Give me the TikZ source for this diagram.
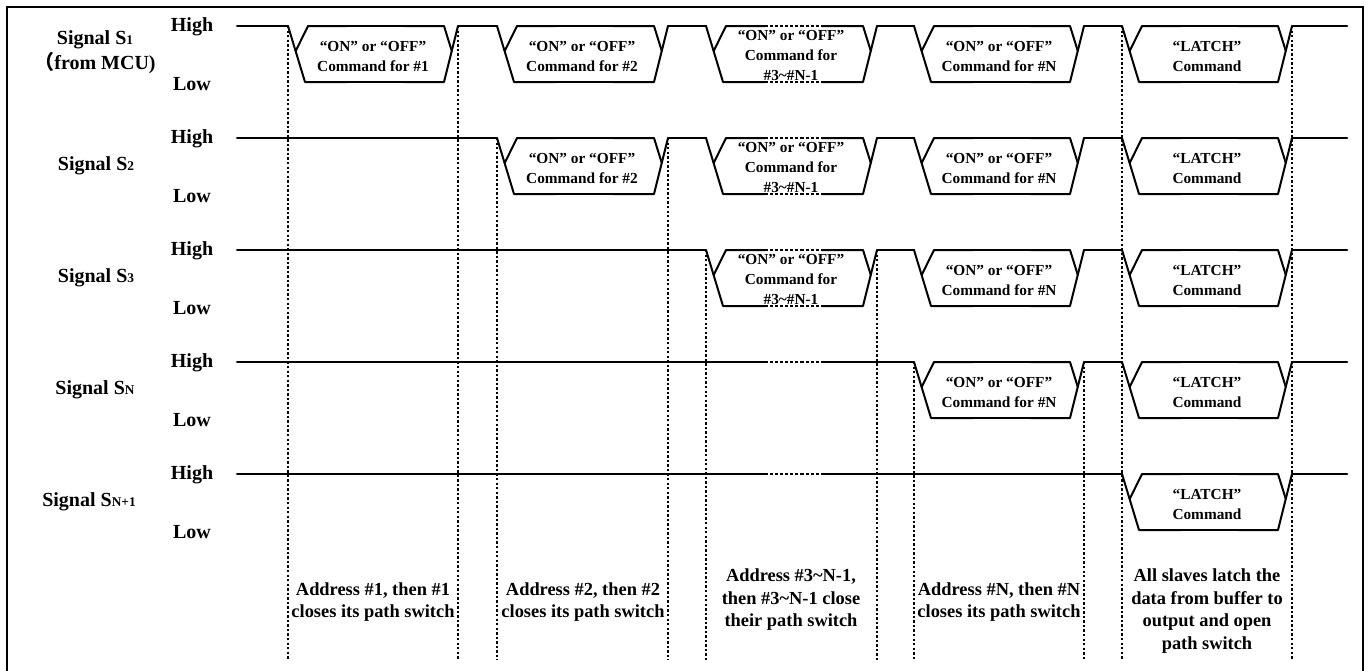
\documentclass[tikz,border=0pt]{standalone}
\usepackage{fontspec}
\setmainfont{Liberation Serif}
\newfontfamily\cjk{Noto Sans CJK SC}
\usetikzlibrary{positioning}

\newcommand{\idx}[1]{{\fontsize{10}{10}\selectfont #1}}
% one command slot on a line: left edge, right edge, high level, style of the middle part
\newcommand{\busslot}[4]{%
  \draw[sig] (#1,#3) -- ++(17,56) -- ++(42,0);
  \draw[sig,#4] (#1+59,#3+56) -- ++(57,0);
  \draw[sig] (#1+116,#3+56) -- (#2-14,#3+56) -- (#2,#3);
  \draw[sig] (#1+7.7,#3+25) -- (#1+20,#3) -- (#1+59,#3);
  \draw[sig,#4] (#1+59,#3) -- ++(57,0);
  \draw[sig] (#1+116,#3) -- (#2-14,#3) -- (#2-6.2,#3+25);
}

\begin{document}
\begin{tikzpicture}[x=0.75pt, y=-0.75pt,
    sig/.style={line width=1.5pt, line cap=round, line join=round},
    gap/.style={line cap=butt, dash pattern=on 2.3pt off 1.5pt},
    guide/.style={line width=1.3pt, dash pattern=on 1.8pt off 1.6pt},
    frame/.style={line width=1.5pt},
    lvl/.style={font=\fontsize{15}{18}\selectfont\bfseries, inner sep=0pt},
    signame/.style={font=\fontsize{15}{19}\selectfont\bfseries, align=center, inner sep=0pt},
    cmd/.style={font=\fontsize{11.5}{15}\selectfont\bfseries, align=center, inner sep=0pt},
    note/.style={font=\fontsize{13.8}{16.9}\selectfont\bfseries, align=center, inner sep=0pt}
  ]
  \useasboundingbox (0,0) rectangle (1368,671);
  \draw[frame] (7,672) -- (7,7) -- (1363,7) -- (1363,672);

  % dotted time marks
  \foreach \x/\t in {288/26, 458/26, 497/138, 668/138, 706/250, 877/250, 914/362, 1084/362, 1122/26, 1292/26}
    \draw[guide] (\x,\t) -- (\x,660);

  % signal lines
  \foreach \y/\f/\xs in {26/1/288, 138/2/497, 250/3/706, 362/4/914, 474/5/1122} {
    \ifnum\f>3
      \draw[sig] (237,\y) -- (765,\y);
      \draw[sig,gap] (765,\y) -- (822,\y);
      \draw[sig] (822,\y) -- (\xs,\y);
    \else
      \draw[sig] (237,\y) -- (\xs,\y);
    \fi
    \foreach \p/\xl/\xr/\nx/\st in {1/288/458/497/solid, 2/497/668/706/solid, 3/706/877/914/gap, 4/914/1084/1122/solid, 5/1122/1292/1347/solid} {
      \ifnum\p<\f\relax\else
        \busslot{\xl}{\xr}{\y}{\st}
        \draw[sig] (\xr,\y) -- (\nx,\y);
      \fi
    }
  }

  % levels
  \foreach \y [count=\i] in {26,138,250,362,474} {
    \node[lvl] (high\i) at (192,\y+1) {High};
    \node[lvl] (low\i) at (192,\y+58) {Low};
  }

  % signal names
  \node[signame] (s1) at (95,52) {Signal S\idx{1}\\{\cjk （}from MCU)};
  \node[signame] (s2) at (96,166) {Signal S\idx{2}};
  \node[signame] (s3) at (96,278) {Signal S\idx{3}};
  \node[signame] (sn) at (95,390) {Signal S\idx{N}};
  \node[signame] (sn1) at (89,502) {Signal S\idx{N+1}};

  % commands
  \node[cmd] (c11) at (373,56) {“ON” or “OFF”\\Command for \#1};
  \foreach \y [count=\i] in {26,138} {
    \node[cmd] (c2\i) at (582,\y+30) {“ON” or “OFF”\\Command for \#2};
  }
  \foreach \y [count=\i] in {26,138,250} {
    \node[cmd] (c3\i) at (791,\y+29) {“ON” or “OFF”\\Command for\\\#3\textasciitilde\#N-1};
  }
  \foreach \y [count=\i] in {26,138,250,362} {
    \node[cmd] (c4\i) at (999,\y+30) {“ON” or “OFF”\\Command for \#N};
  }
  \foreach \y [count=\i] in {26,138,250,362,474} {
    \node[cmd] (c5\i) at (1207,\y+30) {“LATCH”\\Command};
  }

  % what happens in each slot
  \node[note] (n1) at (373,602) {Address \#1, then \#1\\closes its path switch};
  \node[note] (n2) at (583,602) {Address \#2, then \#2\\closes its path switch};
  \node[note] (n3) at (791,600) {Address \#3\textasciitilde N-1,\\then \#3\textasciitilde N-1 close\\their path switch};
  \node[note] (n4) at (999,602) {Address \#N, then \#N\\closes its path switch};
  \node[note] (n5) at (1207,611) {All slaves latch the\\data from buffer to\\output and open\\path switch};
\end{tikzpicture}
\end{document}
